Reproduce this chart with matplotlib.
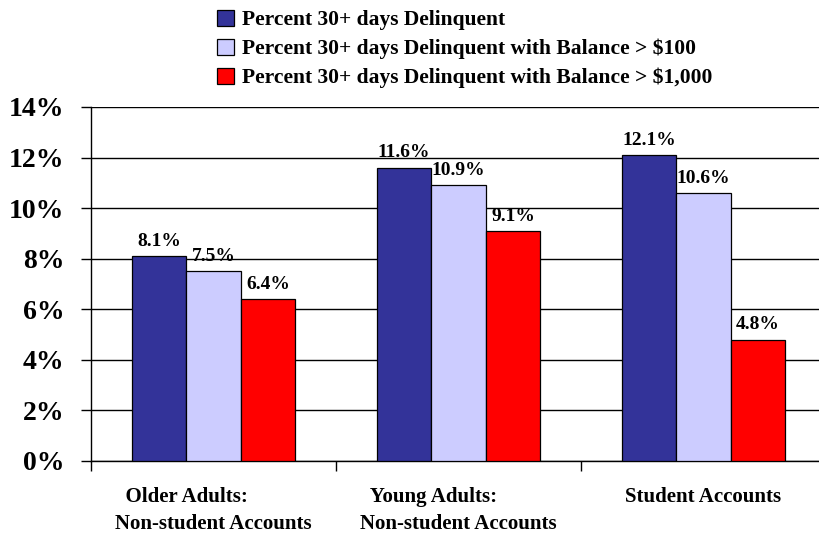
import matplotlib.pyplot as plt
import numpy as np

categories = ["  Older Adults:\nNon-student Accounts",
              "  Young Adults:\nNon-student Accounts",
              "Student Accounts"]
series_names = ["Percent 30+ days Delinquent",
                "Percent 30+ days Delinquent with Balance > $100",
                "Percent 30+ days Delinquent with Balance > $1,000"]
pct_30 = [8.1, 11.6, 12.1]
pct_30_bal100 = [7.5, 10.9, 10.6]
pct_30_bal1000 = [6.4, 9.1, 4.8]
colors = ["#333399", "#CCCCFF", "#FF0000"]
yticks = [0, 2, 4, 6, 8, 10, 12, 14]

plt.rcParams['font.family'] = ['Liberation Serif', 'DejaVu Serif']
plt.rcParams['font.weight'] = 'bold'

fig = plt.figure(figsize=(8.19, 5.33), dpi=100)
ax = fig.add_axes([91/819, 72/533, 735/819, 354/533])

x = np.arange(len(categories))
w = 0.2224
all_series = [pct_30, pct_30_bal100, pct_30_bal1000]
for i, vals in enumerate(all_series):
    bars = ax.bar(x + (i - 1) * w, vals, w, color=colors[i], edgecolor='black',
                  linewidth=0.9, label=series_names[i], zorder=3)
    for b, v in zip(bars, vals):
        ax.annotate(f"{v:.1f}%", (b.get_x() + b.get_width() / 2, v),
                    xytext=(0, 4.5), textcoords='offset points',
                    ha='center', va='bottom', fontsize=14, fontweight='bold')

ax.set_xlim(-0.5, 2.5)
ax.set_ylim(0, 14)
ax.set_yticks(yticks)
ax.set_yticklabels([f"{t}%" for t in yticks], fontsize=20, fontweight='bold')
ax.yaxis.grid(True, color='black', linewidth=1, zorder=0)
ax.tick_params(axis='y', length=7, width=1, pad=12)

ax.set_xticks(x)
ax.set_xticklabels(categories, fontsize=15, fontweight='bold',
                   multialignment='left', linespacing=1.45)
ax.set_xticks([-0.5, 0.5, 1.5], minor=True)
ax.tick_params(axis='x', which='major', length=0, pad=19)
ax.tick_params(axis='x', which='minor', length=7, width=1)

for s in ['top', 'right']:
    ax.spines[s].set_visible(False)
ax.spines['left'].set_linewidth(1)
ax.spines['bottom'].set_linewidth(1)

fig.legend(loc='upper left', bbox_to_anchor=(198/819, 1.018), frameon=False,
           prop={'size': 15.5, 'weight': 'bold'}, handlelength=0.75,
           handleheight=0.75, handletextpad=0.4, labelspacing=0.4)

plt.savefig("out.png", dpi=100)
